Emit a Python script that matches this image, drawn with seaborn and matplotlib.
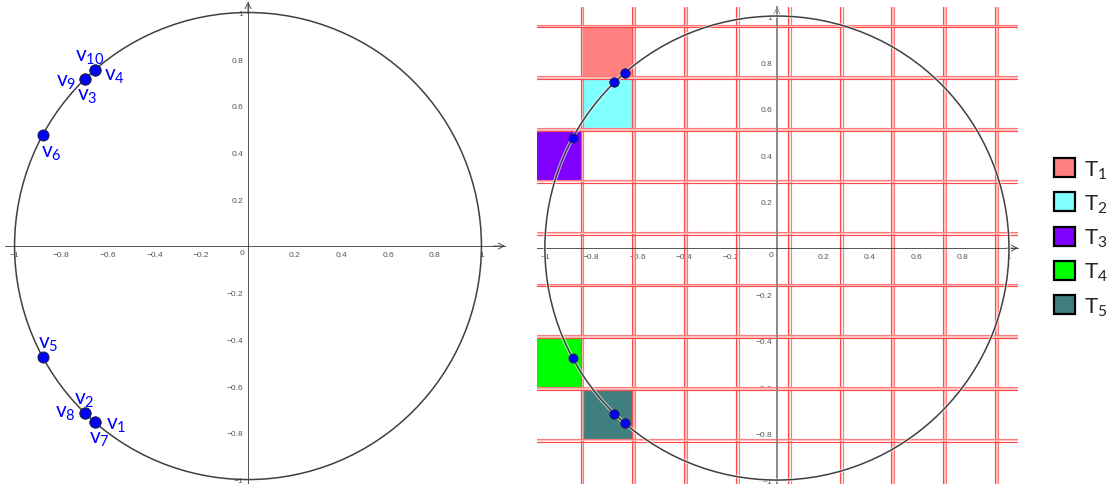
import numpy as np
import pandas as pd
import matplotlib
matplotlib.use("Agg")
import matplotlib.pyplot as plt
import matplotlib.patheffects as pe
from matplotlib.patches import Circle, Rectangle, Patch
import seaborn as sns

# ---------------- data ----------------
vertex_labels = ["v1", "v2", "v3", "v4", "v5", "v6", "v7", "v8", "v9", "v10"]
vertex_x = [-0.655, -0.700, -0.700, -0.655, -0.880, -0.880, -0.655, -0.700, -0.700, -0.655]
vertex_y = [-0.755, -0.715, 0.715, 0.755, -0.475, 0.475, -0.755, -0.715, 0.715, 0.755]

tile_labels = ["T1", "T2", "T3", "T4", "T5"]
tile_col = [1, 1, 0, 0, 1]
tile_row = [0, 1, 2, 6, 7]
tile_colors = ["#ff8080", "#80ffff", "#7f00ff", "#00ff00", "#407f7f"]

tick_values = [-1, -0.8, -0.6, -0.4, -0.2, 0.2, 0.4, 0.6, 0.8, 1]
tick_labels = ["\u22121", "\u22120.8", "\u22120.6", "\u22120.4", "\u22120.2",
               "0.2", "0.4", "0.6", "0.8", "1"]

circle_radius = 1.0
grid_origin_x = -0.84   # edge between grid columns 0 and 1
grid_origin_y = 0.957   # top edge of grid row 0
grid_cell = 0.2233

# label offsets (points) for the vertex names in the left panel
label_offsets = {
    "v1": (15, -1.8), "v2": (0, 10), "v3": (1.8, -11.5), "v4": (13.7, -4),
    "v5": (4, 9.7), "v6": (6.1, -12.6), "v7": (3.2, -11.9), "v8": (-13.7, 0.4),
    "v9": (-13, -1.8), "v10": (-4, 9.7),
}

df = pd.DataFrame({"label": vertex_labels, "x": vertex_x, "y": vertex_y})

# ---------------- style ----------------
sns.set_theme(style="white")
plt.rcParams["font.family"] = ["Liberation Sans", "DejaVu Sans"]
plt.rcParams["mathtext.fontset"] = "custom"
plt.rcParams["mathtext.rm"] = "Lato"
plt.rcParams["mathtext.it"] = "Lato:italic"
plt.rcParams["mathtext.bf"] = "Lato:bold"

W, H = 1107, 485
fig = plt.figure(figsize=(W / 100, H / 100), dpi=100)
fig.patch.set_facecolor("white")


def px_axes(x0, y0, x1, y1):
    return fig.add_axes([x0 / W, 1 - y1 / H, (x1 - x0) / W, (y1 - y0) / H])


AXIS_COLOR = "#3a3a3a"
TICK_COLOR = "#555555"


def style_axes(ax, xlim, ylim, ycolor=AXIS_COLOR, ylw=0.6):
    ax.set_xlim(*xlim)
    ax.set_ylim(*ylim)
    ax.set_facecolor("none")
    for s in ["top", "right"]:
        ax.spines[s].set_visible(False)
    ax.spines["bottom"].set_position("zero")
    ax.spines["left"].set_position("zero")
    ax.spines["bottom"].set_color(AXIS_COLOR)
    ax.spines["bottom"].set_linewidth(0.6)
    ax.spines["left"].set_color(ycolor)
    ax.spines["left"].set_linewidth(ylw)
    ax.spines["bottom"].set_zorder(3)
    ax.spines["left"].set_zorder(3)
    ax.set_xticks(tick_values)
    ax.set_xticklabels(tick_labels)
    ax.set_yticks(tick_values)
    ax.set_yticklabels(tick_labels)
    ax.tick_params(axis="both", direction="out", length=1.6, width=0.5,
                   color=TICK_COLOR, labelsize=6, labelcolor=TICK_COLOR, pad=2)
    ax.set_xlabel("")
    ax.set_ylabel("")
    ax.annotate("0", xy=(0, 0), xytext=(-4.5, -5), textcoords="offset points",
                ha="center", va="center", fontsize=6, color=TICK_COLOR)
    # arrow heads
    ax.annotate("", xy=(xlim[1], 0), xytext=(xlim[1] - 0.05, 0),
                arrowprops=dict(arrowstyle="->,head_length=0.35,head_width=0.18",
                                color=AXIS_COLOR, lw=0.6, shrinkA=0, shrinkB=0),
                annotation_clip=False)
    ax.annotate("", xy=(0, ylim[1]), xytext=(0, ylim[1] - 0.05),
                arrowprops=dict(arrowstyle="->,head_length=0.35,head_width=0.18",
                                color=ycolor, lw=0.6, shrinkA=0, shrinkB=0),
                annotation_clip=False)


# ---------------- left panel ----------------
axL = px_axes(5, 3, 505, 485)
style_axes(axL, (-1.041, 1.101), (-1.019, 1.045))
axL.add_patch(Circle((0, 0), circle_radius, fill=False, edgecolor="#404040",
                     lw=1.1, zorder=4))
sns.scatterplot(data=df, x="x", y="y", ax=axL, color="#0000ff",
                edgecolor="#202050", linewidth=0.8, s=62, zorder=6, legend=False)
for lab, x, y in zip(vertex_labels, vertex_x, vertex_y):
    num = lab[1:]
    axL.annotate(r"$\mathrm{v}_{%s}$" % num, xy=(x, y), xytext=label_offsets[lab],
                 textcoords="offset points", ha="center", va="center",
                 fontsize=15, color="#0000ff", zorder=7)
axL.set_xlabel("")
axL.set_ylabel("")

# ---------------- right panel ----------------
xlimR, ylimR = (-1.034, 1.039), (-1.017, 1.039)
axR = px_axes(537, 8, 1018, 485)
style_axes(axR, xlimR, ylimR, ycolor="#8a8a8a", ylw=1.4)

# coloured tiles
for lab, c, r, col in zip(tile_labels, tile_col, tile_row, tile_colors):
    x0 = grid_origin_x + (c - 1) * grid_cell
    y0 = grid_origin_y - (r + 1) * grid_cell
    axR.add_patch(Rectangle((x0, y0), grid_cell, grid_cell, facecolor=col,
                            edgecolor="none", zorder=1))

# double red grid lines
off = 0.0062
for k in range(-1, 10):
    b = grid_origin_x + k * grid_cell
    axR.axvline(b, color="#ffc4c4", lw=1.3, zorder=2)
    axR.axvline(b - off, color="#ff4a4a", lw=0.85, zorder=2)
    axR.axvline(b + off, color="#ff7a7a", lw=0.85, zorder=2)
for k in range(-1, 11):
    b = grid_origin_y - k * grid_cell
    axR.axhline(b, color="#ffc4c4", lw=1.3, zorder=2)
    axR.axhline(b + off, color="#ff7a7a", lw=0.85, zorder=2)
    axR.axhline(b - off, color="#ff4a4a", lw=0.85, zorder=2)

circR = Circle((0, 0), circle_radius, fill=False, edgecolor="#404040", lw=1.1, zorder=4)
circR.set_path_effects([pe.Stroke(linewidth=2.6, foreground=(1, 1, 1, 0.6)), pe.Normal()])
axR.add_patch(circR)
sns.scatterplot(data=df, x="x", y="y", ax=axR, color="#0000ff",
                edgecolor="#202050", linewidth=0.7, s=42, zorder=6, legend=False)
axR.set_xlabel("")
axR.set_ylabel("")

# ---------------- legend ----------------
handles = [Patch(facecolor=c, edgecolor="black", linewidth=1.6) for c in tile_colors]
labels = [r"$\mathrm{T}_{%s}$" % t[1:] for t in tile_labels]
fig.legend(handles, labels, loc="upper left", bbox_to_anchor=(1054 / W, 1 - 159 / H),
           frameon=False, fontsize=16, handlelength=0.95, handleheight=0.95,
           handletextpad=0.4, labelspacing=0.53, borderaxespad=0, borderpad=0)

fig.savefig("out.png", dpi=100, facecolor="white")
